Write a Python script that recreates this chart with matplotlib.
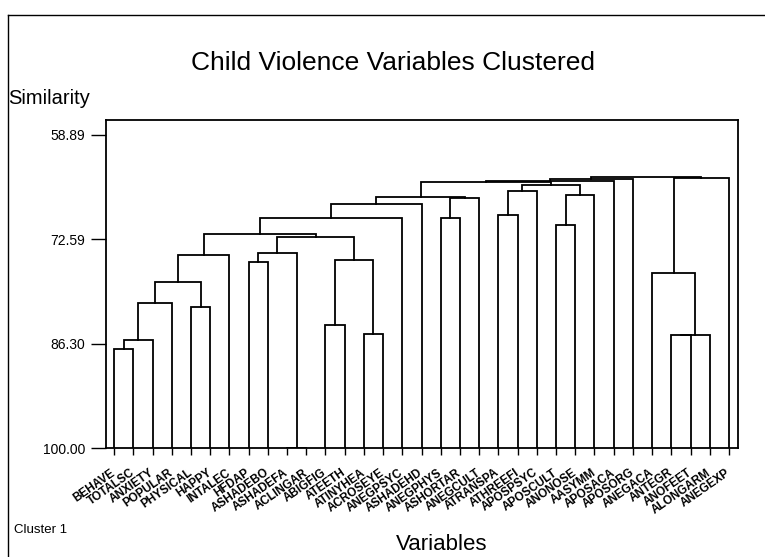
import numpy as np
import matplotlib
matplotlib.use('Agg')
import matplotlib.pyplot as plt
from matplotlib.lines import Line2D

# leaf labels in dendrogram order
variables = ['BEHAVE', 'TOTALSC', 'ANXIETY', 'POPULAR', 'PHYSICAL', 'HAPPY', 'INTALEC',
	'HFDAP', 'ASHADEBO', 'ASHADEFA', 'ACLINGAR', 'ABIGFIG', 'ATEETH', 'ATINYHEA',
	'ACROSEYE', 'ANEGPSYC', 'ASHADEHD', 'ANEGPHYS', 'ASHORTAR', 'ANEGCULT', 'ATRANSPA',
	'ATHREEFI', 'APOSPSYC', 'APOSCULT', 'ANONOSE', 'AASYMM', 'APOSACA', 'APOSORG',
	'ANEGACA', 'ANTEGR', 'ANOFEET', 'ALONGARM', 'ANEGEXP']

# merge steps: ids < 33 are leaves, id 33+k is the cluster made at step k
merge_left = [0, 33, 34, 4, 35, 37, 7, 9, 39, 11, 13, 42, 41, 38, 46,
	17, 47, 48, 49, 20, 52, 23, 54, 53, 51, 57, 58, 29, 60, 28, 62, 59]
merge_right = [1, 2, 3, 5, 36, 6, 8, 10, 40, 12, 14, 43, 44, 45, 15,
	18, 16, 19, 50, 21, 22, 24, 25, 55, 56, 26, 27, 30, 31, 61, 32, 63]
merge_sim = [87.04, 85.81, 80.91, 81.44, 78.24, 74.65, 75.61, 100.00, 74.43, 83.84, 85.03,
	75.31, 72.25, 71.90, 69.83, 69.83, 68.00, 67.20, 67.00, 69.40, 66.19, 70.71,
	66.77, 65.40, 65.10, 64.90, 64.70, 85.16, 85.16, 77.02, 64.50, 64.40]

y_ticks = [58.89, 72.59, 86.30, 100.00]

def drawDendrogram(ax):
	n = len(variables)
	xpos = {i: float(i) for i in range(n)}
	ypos = {i: 100.0 for i in range(n)}
	for k in range(len(merge_sim)):
		a = merge_left[k]
		b = merge_right[k]
		h = merge_sim[k]
		ax.plot([xpos[a], xpos[a], xpos[b], xpos[b]], [ypos[a], h, h, ypos[b]],
			color='black', lw=1.3, solid_joinstyle='miter')
		xpos[n + k] = (xpos[a] + xpos[b]) / 2
		ypos[n + k] = h

def main():
	plt.rcParams['font.family'] = ['Liberation Sans', 'DejaVu Sans']
	fig = plt.figure(figsize=(7.65, 5.57), dpi=100)
	ax = fig.add_axes([106/765, 1-448/557, (738-106)/765, (448-120)/557])

	drawDendrogram(ax)

	ax.set_xlim(-0.42, 32.47)
	ax.set_ylim(100.0, 56.92)
	ax.set_yticks(y_ticks)
	ax.set_yticklabels(['%.2f' % v for v in y_ticks], fontsize=10)
	ax.set_xticks(range(len(variables)))
	ax.set_xticklabels(variables, rotation=35, ha='right', va='center',
		rotation_mode='anchor', fontsize=8.5, fontweight='bold')
	ax.tick_params(axis='y', length=11, width=1.0, pad=4)
	ax.tick_params(axis='x', length=5, width=1.0, pad=12)
	for s in ax.spines.values():
		s.set_linewidth(1.3)

	fig.text(393/765, 1-63/557, 'Child Violence Variables Clustered', fontsize=19,
		ha='center', va='center')
	fig.text(8/765, 1-98/557, 'Similarity', fontsize=14.5, ha='left', va='center')
	fig.text(442/765, 1-544/557, 'Variables', fontsize=16, ha='center', va='center')
	fig.text(14/765, 1-530/557, 'Cluster 1', fontsize=9.5, ha='left', va='center')

	# page border from the scan
	fig.add_artist(Line2D([8/765, 8/765], [0, 1-15/557], color='black', lw=1.0))
	fig.add_artist(Line2D([8/765, 1], [1-15/557, 1-15/557], color='black', lw=1.0))

	fig.savefig('out.png', dpi=100)

if __name__ == "__main__":
	main()
